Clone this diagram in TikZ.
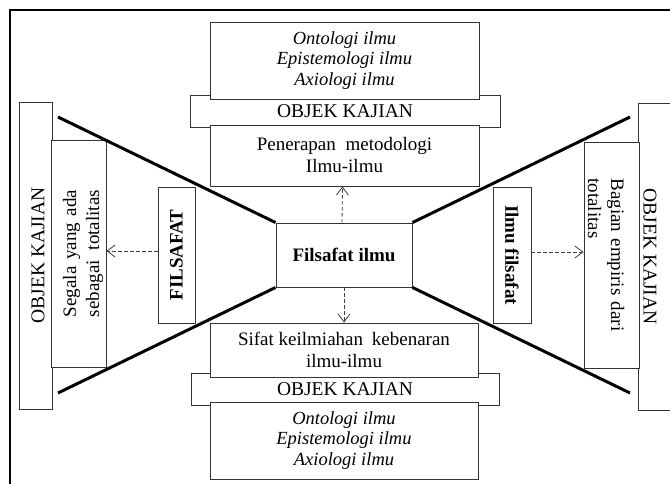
\documentclass[tikz,border=0pt]{standalone}
\usepackage{fontspec}
\setmainfont{Liberation Serif}
\usepackage{graphicx}
\usetikzlibrary{arrows.meta}
\begin{document}
\begin{tikzpicture}[x=1pt,y=-1pt,
  box/.style={draw=black!80, line width=0.9pt, fill=white, inner sep=0pt, align=center},
  txt/.style={font=\fontsize{19}{22}\selectfont},
  ital/.style={font=\fontsize{18.5}{20.5}\selectfont\itshape},
  obj/.style={font=\fontsize{19.5}{22}\selectfont},
  bld/.style={font=\fontsize{19}{22}\selectfont\bfseries},
  side/.style={font=\fontsize{19}{23}\selectfont},
  funnel/.style={line width=3pt},
  link/.style={draw=black!75, line width=0.8pt, dash pattern=on 3.5pt off 2.5pt,
    -{Straight Barb[length=8pt,width=12pt]}}
]
\useasboundingbox (0,0) rectangle (670,484);
\clip (0,0) rectangle (670,484);
\fill[white] (0,0) rectangle (670,484);
% outer frame (runs off the right and bottom edges)
\draw[line width=1.8pt] (10,10) rectangle (700,520);

% central column: OBJEK KAJIAN bands sit behind the neighbouring boxes
\node[box, obj, minimum width=310, minimum height=32] (objT) at (345,111) {OBJEK KAJIAN};
\node[box, obj, minimum width=308, minimum height=32] (objB) at (345,389) {OBJEK KAJIAN};
\node[box, ital, minimum width=269, minimum height=77] (ontoT) at (344.5,60.5)
  {Ontologi ilmu\\Epistemologi ilmu\\Axiologi ilmu};
\node[box, txt, minimum width=269, minimum height=61] (pen) at (344.5,155.5)
  {Penerapan\hspace{5pt} metodologi\\Ilmu-ilmu};
\node[box, bld, minimum width=136, minimum height=64] (fi) at (344,255) {Filsafat ilmu};
\node[box, txt, minimum width=268, minimum height=54] (sif) at (344,350)
  {Sifat keilmiahan\hspace{4pt} kebenaran\\ilmu-ilmu};
\node[box, ital, minimum width=268, minimum height=77] (ontoB) at (344,440.5)
  {Ontologi ilmu\\Epistemologi ilmu\\Axiologi ilmu};

% left wing
\node[box, obj, minimum width=33, minimum height=307] (objL) at (35.5,255.5)
  {\hspace*{5pt}\rotatebox{90}{OBJEK KAJIAN}};
\node[box, side, minimum width=55, minimum height=227] (seg) at (78.5,253.5)
  {\hspace*{9pt}\rotatebox{90}{\parbox{127pt}{\makebox[127pt][s]{Segala yang ada}\\\makebox[127pt][s]{sebagai totalitas}}}};
\node[box, bld, minimum width=37, minimum height=136] (fs) at (176.5,255)
  {\rotatebox{90}{FILSAFAT}};

% right wing
\node[box, obj, minimum width=34, minimum height=307] (objR) at (655,256.5)
  {\rotatebox{-90}{OBJEK KAJIAN}\hspace*{10pt}};
\node[box, side, minimum width=55, minimum height=226] (bag) at (611.5,255)
  {\rotatebox{-90}{\parbox{153pt}{\makebox[153pt][s]{Bagian empiris dari}\\totalitas}}\hspace*{11pt}};
\node[box, bld, minimum width=38, minimum height=136] (ifs) at (512,255)
  {\rotatebox{-90}{Ilmu filsafat}};

% funnel edges
\coordinate (ul) at (58,117);
\coordinate (ll) at (58,393);
\coordinate (ur) at (630,117);
\coordinate (lr) at (630,393);
\draw[funnel] (ul) -- (fi.north west);
\draw[funnel] (ll) -- (fi.south west);
\draw[funnel] (ur) -- (fi.north east);
\draw[funnel] (lr) -- (fi.south east);

% dashed links
\draw[link] ([xshift=-2pt]fi.north) -- ([xshift=-2pt]pen.south);
\draw[link] (fi.south) -- (sif.north);
\draw[link] ([yshift=4pt]fs.west) -- ([yshift=4pt]fs.west -| seg.east);
\draw[link] ([yshift=3pt]ifs.east) -- ([yshift=3pt]ifs.east -| bag.west);
\end{tikzpicture}
\end{document}
